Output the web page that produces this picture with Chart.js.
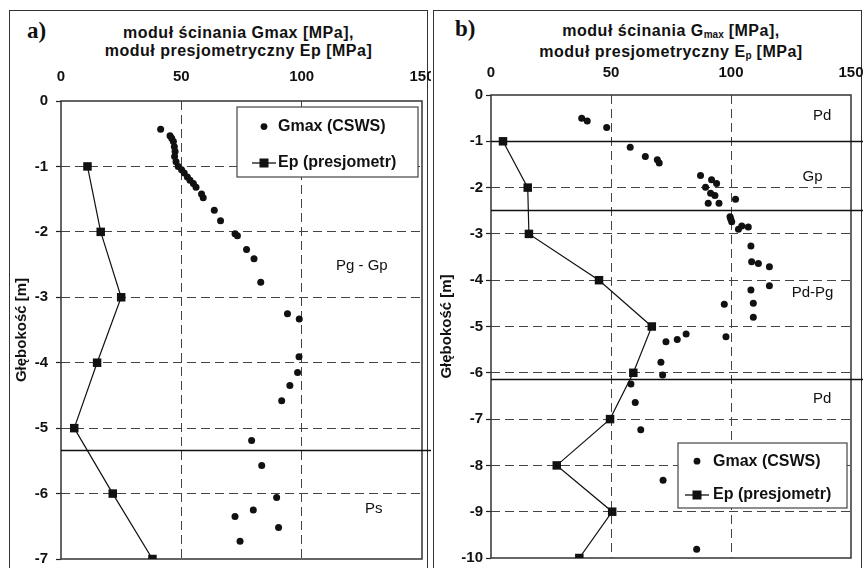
<!DOCTYPE html>
<html>
<head>
<meta charset="utf-8">
<script src="https://cdn.jsdelivr.net/npm/chart.js@4.4.1/dist/chart.umd.min.js"></script>
<style>
  body { margin: 0; background: #fff; }
  #page { position: relative; width: 863px; height: 568px; overflow: hidden; font-family: "Liberation Sans", Arial, sans-serif; color: #111; }
  .frame { position: absolute; border: 1.5px solid #333; height: 600px; }
  .title { position: absolute; text-align: center; font-weight: bold; font-size: 16px; letter-spacing: 0.5px; }
  .tag { position: absolute; font-family: "Liberation Serif", "DejaVu Serif", serif; font-weight: bold; font-size: 23px; }
  canvas { position: absolute; top: 0; }
  sub { font-size: 10px; vertical-align: -2px; letter-spacing: 0; }
</style>
</head>
<body>
<div id="page">
  <div class="frame" style="left:9px;top:10px;width:417px;"></div>
  <div class="frame" style="left:433px;top:10px;width:427px;"></div>
  <div class="tag" style="left:27px;top:18px;">a)</div>
  <div class="tag" style="left:455px;top:16px;">b)</div>
  <div class="title" style="left:58px;top:24px;width:361px;line-height:18px;">moduł ścinania Gmax [MPa],<br>moduł presjometryczny Ep [MPa]</div>
  <div class="title" style="left:491px;top:22px;width:360px;line-height:17px;">moduł ścinania G<sub>max</sub> [MPa],<br>moduł presjometryczny E<sub>p</sub> [MPa]</div>
  <canvas id="chartA" width="431" height="568" style="left:0px;"></canvas>
  <canvas id="chartB" width="432" height="568" style="left:431px;"></canvas>
</div>
<script>
// axis ticks
const xTicks = [0, 50, 100, 150];
const depthTicksA = [0, -1, -2, -3, -4, -5, -6, -7];
const depthTicksB = [0, -1, -2, -3, -4, -5, -6, -7, -8, -9, -10];

// panel a) - Ep (presjometr)
const epDepthA = [-1, -2, -3, -4, -5, -6, -7];
const epA = [11, 16.5, 25, 15, 5.5, 21.5, 38];

// panel a) - Gmax (CSWS)
const gmaxA = [41.4, 45.3, 46.0, 46.7, 47.1, 47.4, 47.2, 47.8, 48.7, 50.1, 51.2, 52.5, 53.6, 55.0, 56.1, 58.4, 59.1,
  63.7, 66.3, 72.3, 73.3, 77.1, 80.2, 83.0, 94.1, 99.0, 98.9, 98.3, 95.1, 91.7, 79.2, 83.4, 89.6, 79.9, 72.3, 90.4, 74.4];
const gmaxDepthA = [-0.43, -0.53, -0.57, -0.62, -0.70, -0.77, -0.85, -0.93, -1.00, -1.05, -1.10, -1.16, -1.21, -1.26, -1.32, -1.42, -1.48,
  -1.67, -1.83, -2.03, -2.06, -2.27, -2.41, -2.77, -3.25, -3.33, -3.91, -4.15, -4.35, -4.58, -5.19, -5.57, -6.06, -6.25, -6.35, -6.52, -6.73];

// panel a) - layers
const layerBoundsA = [-5.34];
const layerNamesA = ['Pg - Gp', 'Ps'];
const layerNameXA = [125, 130];
const layerNameDepthA = [-2.52, -6.24];

// panel b) - Ep (presjometr)
const epDepthB = [-1, -2, -3, -4, -5, -6, -7, -8, -9, -10];
const epB = [5, 15.3, 15.8, 45, 67, 59.3, 49.6, 27.4, 50.5, 36.8];

// panel b) - Gmax (CSWS)
const gmaxB = [37.8, 40.1, 48.2, 58.0, 64.3, 69.3, 70.1, 87.3, 91.9, 94.0, 89.4, 91.5, 93.3, 101.9, 90.5, 95.0,
  99.6, 99.9, 100.3, 103.1, 104.5, 107.2, 108.3, 108.6, 111.4, 116.0, 116.0, 108.3, 97.2, 109.3, 109.3, 97.9,
  81.3, 77.6, 72.9, 70.8, 71.5, 58.3, 60.1, 62.4, 71.7, 85.7];
const gmaxDepthB = [-0.50, -0.56, -0.70, -1.13, -1.33, -1.40, -1.47, -1.74, -1.83, -1.91, -1.99, -2.12, -2.17, -2.25, -2.34, -2.34,
  -2.63, -2.68, -2.74, -2.90, -2.83, -2.85, -3.26, -3.60, -3.64, -3.71, -4.12, -4.21, -4.52, -4.50, -4.80, -5.22,
  -5.16, -5.28, -5.33, -5.77, -6.05, -6.24, -6.64, -7.23, -8.32, -9.81];

// panel b) - layers
const layerBoundsB = [-1.0, -2.48, -6.13];
const layerNamesB = ['Pd', 'Gp', 'Pd-Pg', 'Pd'];
const layerNameXB = [138, 134, 134, 138];
const layerNameDepthB = [-0.45, -1.77, -4.28, -6.57];

const seriesNames = ['Gmax (CSWS)', 'Ep (presjometr)'];

const FONT = '"Liberation Sans", Arial, sans-serif';
const INK = '#111';
const GRID = '#444';

// frame of the plot area, layer boundaries, layer names, legend box
const overlay = {
  id: 'overlay',
  beforeDatasetsDraw(chart, args, o) {
    const ctx = chart.ctx;
    const a = chart.chartArea;
    const xs = chart.scales.x, ys = chart.scales.y;
    ctx.save();
    ctx.strokeStyle = '#333';
    ctx.lineWidth = 1.5;
    ctx.strokeRect(a.left, a.top, a.right - a.left, a.bottom - a.top);
    ctx.strokeStyle = INK;
    ctx.lineWidth = 1.6;
    o.bounds.forEach(d => {
      const y = Math.round(ys.getPixelForValue(d)) + 0.5;
      ctx.beginPath();
      ctx.moveTo(a.left, y);
      ctx.lineTo(chart.width, y);
      ctx.stroke();
    });
    ctx.fillStyle = INK;
    ctx.font = '15px ' + FONT;
    ctx.textAlign = 'center';
    ctx.textBaseline = 'middle';
    o.names.forEach((n, i) => {
      ctx.fillText(n, xs.getPixelForValue(o.nameX[i]), ys.getPixelForValue(o.nameY[i]));
    });
    ctx.restore();
  },
  afterDatasetsDraw(chart, args, o) {
    const ctx = chart.ctx;
    const a = chart.chartArea;
    const L = o.legend;
    const x0 = a.left + L.dx, y0 = a.top + L.dy;
    ctx.save();
    ctx.fillStyle = '#fff';
    ctx.fillRect(x0, y0, L.w, L.h);
    ctx.strokeStyle = '#444';
    ctx.lineWidth = 1.2;
    ctx.strokeRect(x0, y0, L.w, L.h);
    const r1 = y0 + L.h * 0.28, r2 = y0 + L.h * 0.8;
    const mx = x0 + L.mx;
    ctx.fillStyle = INK;
    ctx.beginPath();
    ctx.arc(mx, r1, 3.4, 0, Math.PI * 2);
    ctx.fill();
    ctx.strokeStyle = INK;
    ctx.lineWidth = 1.3;
    ctx.beginPath();
    ctx.moveTo(mx - 12, r2);
    ctx.lineTo(mx + 12, r2);
    ctx.stroke();
    ctx.fillRect(mx - 4.5, r2 - 4.5, 9, 9);
    ctx.font = 'bold 16px ' + FONT;
    ctx.textAlign = 'left';
    ctx.textBaseline = 'middle';
    ctx.fillText(seriesNames[0], x0 + L.tx, r1);
    ctx.fillText(seriesNames[1], x0 + L.tx, r2);
    ctx.restore();
  }
};

function makePanel(id, p) {
  const gmaxPts = p.gmax.map((v, i) => ({ x: v, y: p.gmaxDepth[i] }));
  const epPts = p.ep.map((v, i) => ({ x: v, y: p.epDepth[i] }));
  const hideEdge = (c, edges) => (c.tick && edges.includes(c.tick.value)) ? 'rgba(0,0,0,0)' : GRID;
  const tickFont = { family: FONT, size: 15, weight: 'bold' };
  return new Chart(document.getElementById(id), {
    type: 'scatter',
    data: {
      datasets: [
        {
          label: seriesNames[0], data: gmaxPts, showLine: false,
          pointStyle: 'circle', pointRadius: 3.5, pointBackgroundColor: INK, pointBorderWidth: 0
        },
        {
          label: seriesNames[1], data: epPts, showLine: true, borderColor: INK, borderWidth: 1.2,
          pointStyle: 'rect', pointRadius: 6, pointBackgroundColor: INK, pointBorderWidth: 0
        }
      ]
    },
    options: {
      responsive: false,
      animation: false,
      layout: { padding: p.pad },
      plugins: {
        legend: { display: false },
        tooltip: { enabled: false },
        overlay: {
          bounds: p.bounds, names: p.names, nameX: p.nameX, nameY: p.nameY, legend: p.legend
        }
      },
      scales: {
        x: {
          type: 'linear', position: 'top', min: 0, max: 150,
          afterBuildTicks: s => { s.ticks = xTicks.map(v => ({ value: v })); },
          afterFit: s => { s.height = p.xh; s.paddingLeft = 0; s.paddingRight = 0; },
          ticks: { color: INK, font: tickFont, padding: p.xpad, maxRotation: 0 },
          grid: { color: c => hideEdge(c, [0, 150]), lineWidth: 1, drawTicks: false },
          border: { display: false, dash: [9, 5] }
        },
        y: {
          type: 'linear', min: p.ymin, max: 0,
          afterBuildTicks: s => { s.ticks = p.yTicks.map(v => ({ value: v })); },
          afterFit: s => { s.width = p.yw; s.paddingTop = 0; s.paddingBottom = 0; },
          ticks: { color: INK, font: tickFont, padding: p.ypad },
          grid: { color: c => hideEdge(c, [0, p.ymin]), lineWidth: 1, drawTicks: true, tickLength: 5,
                  tickColor: '#222', tickBorderDash: [], tickWidth: 1.2 },
          border: { display: false, dash: [9, 5] },
          title: {
            display: true, text: 'Głębokość [m]', color: INK,
            font: { family: FONT, size: 15, weight: 'bold' }, padding: { top: p.ttop, bottom: 0 }
          }
        }
      }
    },
    plugins: [overlay]
  });
}

makePanel('chartA', {
  gmax: gmaxA, gmaxDepth: gmaxDepthA, ep: epA, epDepth: epDepthA,
  bounds: layerBoundsA, names: layerNamesA, nameX: layerNameXA, nameY: layerNameDepthA,
  yTicks: depthTicksA, ymin: -7,
  pad: { left: 0, top: 0, right: 9, bottom: 9 }, xh: 101, yw: 61, xpad: 15, ypad: 8, ttop: 13,
  legend: { dx: 176, dy: 6, w: 181, h: 70, mx: 27, tx: 41 }
});

makePanel('chartB', {
  gmax: gmaxB, gmaxDepth: gmaxDepthB, ep: epB, epDepth: epDepthB,
  bounds: layerBoundsB, names: layerNamesB, nameX: layerNameXB, nameY: layerNameDepthB,
  yTicks: depthTicksB, ymin: -10,
  pad: { left: 0, top: 0, right: 12, bottom: 10 }, xh: 95, yw: 60, xpad: 13, ypad: 3, ttop: 7,
  legend: { dx: 187, dy: 348, w: 169, h: 65, mx: 19, tx: 35 }
});
</script>
</body>
</html>
